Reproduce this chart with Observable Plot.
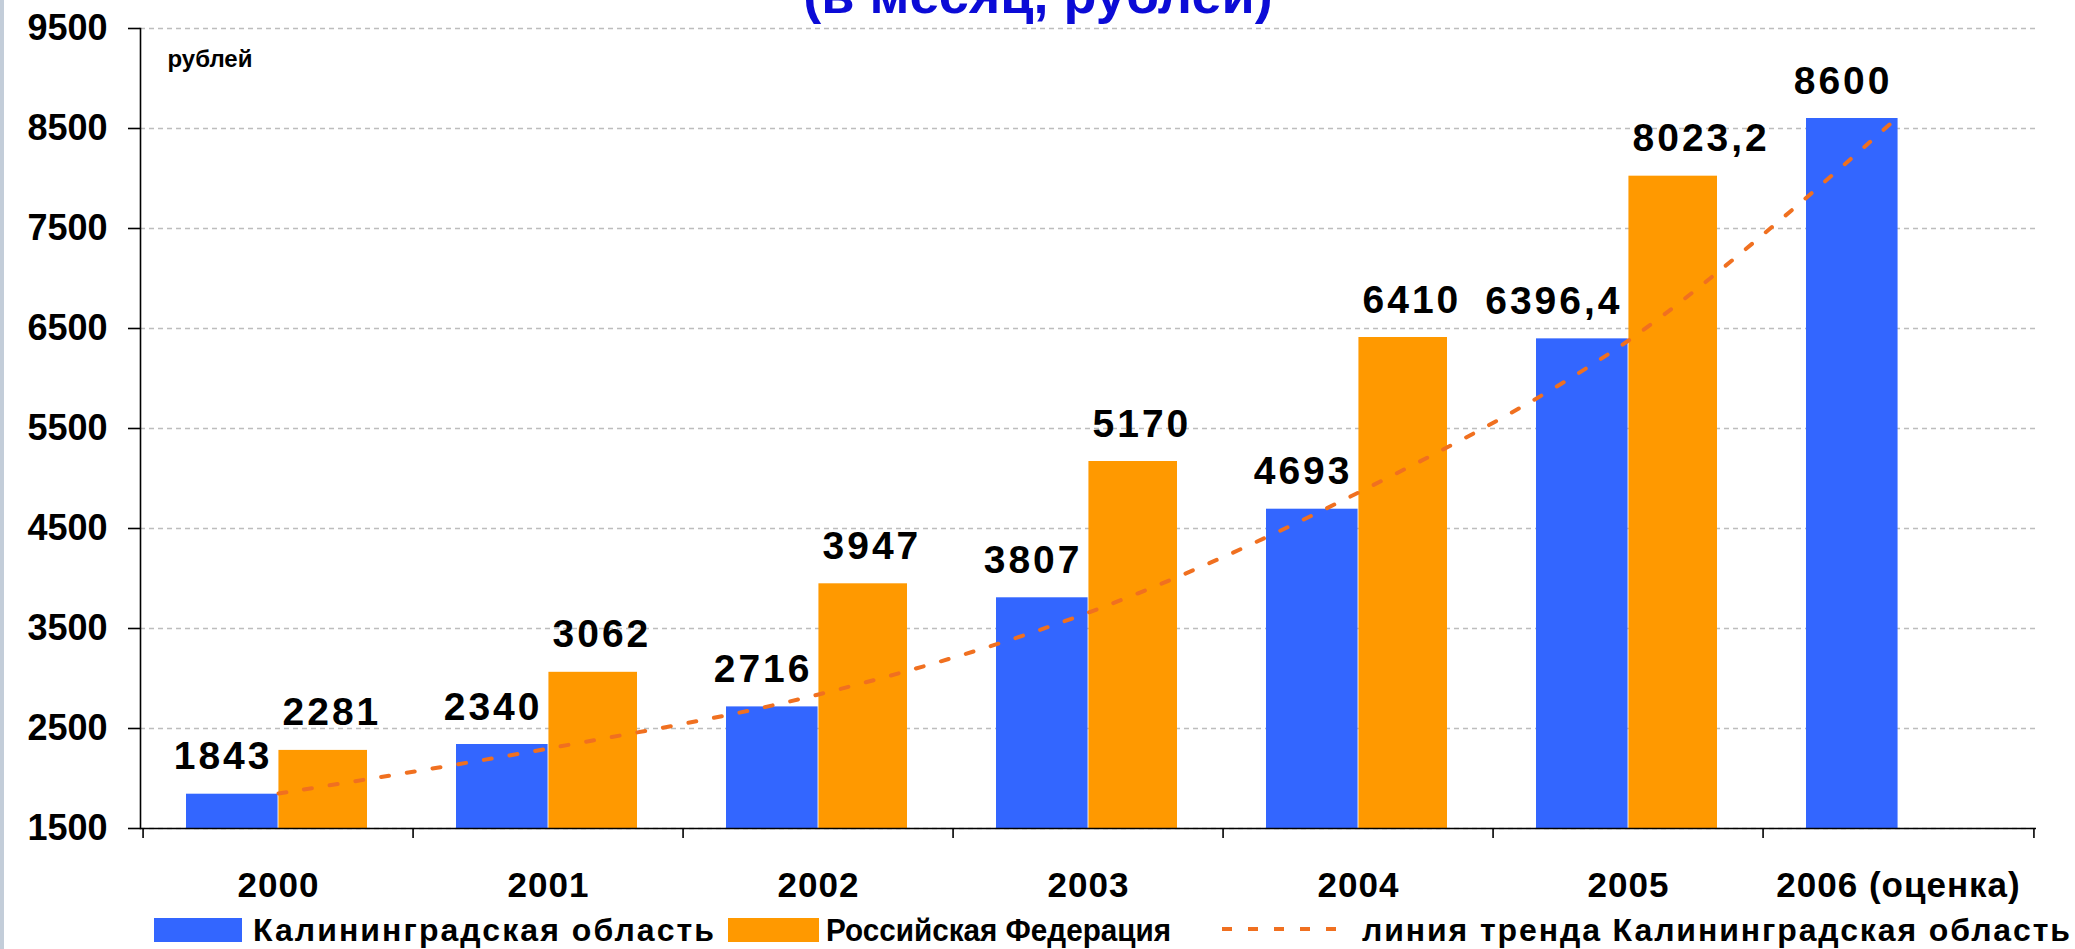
<!DOCTYPE html>
<html>
<head>
<meta charset="utf-8">
<script src="https://cdn.jsdelivr.net/npm/d3@7"></script>
<script src="https://cdn.jsdelivr.net/npm/@observablehq/plot@0.6"></script>
<style>
  html, body { margin: 0; padding: 0; background: #fff; overflow: hidden; }
  #wrap { position: relative; width: 2075px; height: 949px; overflow: hidden; }
  #strip { position: absolute; left: 0; top: 0; width: 4px; height: 949px; background: #c3cdd9; }
  #overlay { position: absolute; left: 0; top: 0; pointer-events: none; }
  #chart { position: absolute; left: 0; top: 0; }
</style>
</head>
<body>
<div id="wrap">
  <div id="chart"></div>
  <div id="strip"></div>
</div>
<script>
// ---- data ----
const years = ["2000", "2001", "2002", "2003", "2004", "2005", "2006 (оценка)"];
const kaliningrad = [1843, 2340, 2716, 3807, 4693, 6396.4, 8600];
const russia = [2281, 3062, 3947, 5170, 6410, 8023.2, null];
const trendKaliningrad = [1850, 2300, 2840, 3660, 4860, 6380, 8620];
const yTicks = [1500, 2500, 3500, 4500, 5500, 6500, 7500, 8500, 9500];
const seriesNames = ["Калининградская область", "Российская Федерация", "линия тренда Калининградская область"];
const unitLabel = "рублей";
const titleText = "(в месяц, рублей)";

// ---- layout / style ----
const W = 2075, H = 900;
const mL = 140, mR = 39, mT = 28, mB = H - 828;
const bw = (W - mL - mR) / years.length;
const BLUE = "#3366ff", ORANGE = "#ff9900", TREND = "#f07020";
const FONT = "'Liberation Sans', Arial, sans-serif";

const blueData = years.map((y, i) => ({year: y, value: kaliningrad[i]}));
const orangeData = years.map((y, i) => ({year: y, value: russia[i]})).filter(d => d.value != null);
const trendData = years.map((y, i) => ({year: y, value: trendKaliningrad[i]}));
const fmt = v => String(v).replace(".", ",");

const labelStyle = {fontSize: 39, fontWeight: "bold", fill: "#000", lineAnchor: "bottom", dy: -25};

const chart = Plot.plot({
  width: W, height: H,
  marginLeft: mL, marginRight: mR, marginTop: mT, marginBottom: mB,
  style: {fontFamily: FONT, background: "transparent", overflow: "visible", color: "#000"},
  x: {domain: years, padding: 0, label: null},
  y: {domain: [1500, 9500], label: null},
  marks: [
    Plot.gridY(yTicks, {stroke: "#bdbdbd", strokeOpacity: 1, strokeDasharray: "5,4", strokeWidth: 1.3}),
    Plot.barY(blueData, {x: "year", y1: 1500, y2: "value", fill: BLUE, insetLeft: 43, insetRight: bw / 2}),
    Plot.barY(orangeData, {x: "year", y1: 1500, y2: "value", fill: ORANGE, insetLeft: bw / 2, insetRight: 46}),
    Plot.line(trendData, {x: "year", y: "value", stroke: TREND, strokeWidth: 4, strokeDasharray: "8,18", curve: "catmull-rom"}),
    Plot.text(blueData, {x: "year", y: "value", text: d => fmt(d.value), textAnchor: "end", dx: -6, ...labelStyle}),
    Plot.text(orangeData, {x: "year", y: "value", text: d => fmt(d.value), textAnchor: "start", dx: 4, ...labelStyle}),
    Plot.ruleY([1500], {stroke: "#000", strokeWidth: 1.6}),
    Plot.frame({anchor: "left", stroke: "#000", strokeWidth: 1.6}),
    Plot.axisY({ticks: yTicks, tickFormat: d => String(d), tickSize: 12, tickPadding: 21, fontSize: 36, fontWeight: "bold", strokeWidth: 1.6, label: null}),
    Plot.axisX({ticks: years, tickSize: 10, tickFormat: () => "", dx: -bw / 2, strokeWidth: 1.6, label: null}),
    Plot.axisX({ticks: [years[years.length - 1]], tickSize: 10, tickFormat: () => "", dx: bw / 2, strokeWidth: 1.6, label: null}),
    Plot.axisX({ticks: years, tickSize: 0, tickPadding: 44, fontSize: 35, fontWeight: "bold", label: null}),
    Plot.text([unitLabel], {frameAnchor: "top-left", dx: 27, dy: 38, lineAnchor: "bottom", fontSize: 24, fontWeight: "bold", fill: "#000"})
  ]
});
document.getElementById("chart").appendChild(chart);

// letter spacing for the value labels and x labels (wider glyphs in the reference)
d3.select(chart).selectAll("g[aria-label='text'] text")
  .filter(function() { return this.textContent !== unitLabel; })
  .style("letter-spacing", "3px");
d3.select(chart).selectAll("g[aria-label='x-axis tick label'] text").style("letter-spacing", "1px");

// ---- title & legend overlay ----
const ov = d3.select("#wrap").append("svg")
  .attr("id", "overlay").attr("width", 2075).attr("height", 949)
  .style("font-family", FONT);

ov.append("text").text(titleText)
  .attr("x", 1038).attr("y", 13).attr("text-anchor", "middle")
  .attr("font-size", 54).attr("font-weight", "bold").attr("fill", "#0b0bd6");

const lg = ov.append("g").attr("font-size", 32).attr("font-weight", "bold").attr("fill", "#000");
lg.append("rect").attr("x", 154).attr("y", 918).attr("width", 88).attr("height", 24).attr("fill", BLUE);
lg.append("text").attr("x", 253).attr("y", 941).attr("textLength", 461).attr("lengthAdjust", "spacing").text(seriesNames[0]);
lg.append("rect").attr("x", 728).attr("y", 918).attr("width", 91).attr("height", 24).attr("fill", ORANGE);
lg.append("text").attr("x", 826).attr("y", 941).attr("textLength", 345).attr("lengthAdjust", "spacingAndGlyphs").text(seriesNames[1]);
lg.append("line").attr("x1", 1222).attr("x2", 1350).attr("y1", 929).attr("y2", 929)
  .attr("stroke", TREND).attr("stroke-width", 4).attr("stroke-dasharray", "10,16");
lg.append("text").attr("x", 1362).attr("y", 941).attr("textLength", 708).attr("lengthAdjust", "spacing").text(seriesNames[2]);
</script>
</body>
</html>
